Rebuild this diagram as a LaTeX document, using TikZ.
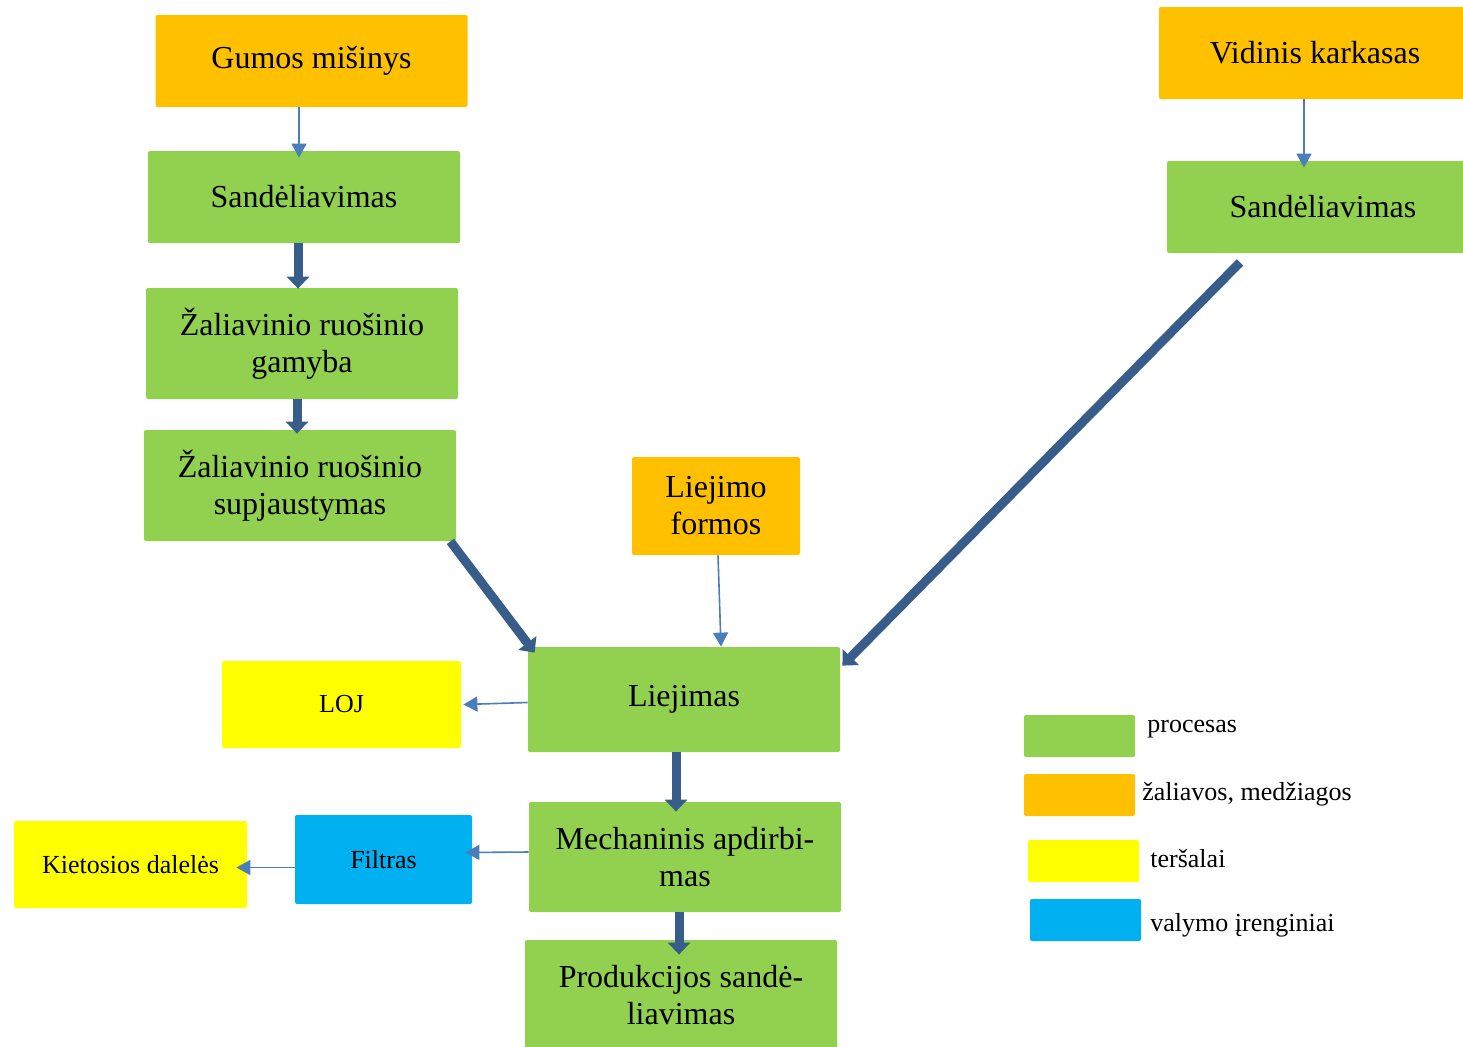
\documentclass[tikz,border=0pt]{standalone}
\usepackage{fontspec}
\setmainfont{Liberation Serif}
\usetikzlibrary{arrows.meta}

\definecolor{procgreen}{HTML}{92D050}
\definecolor{matorange}{HTML}{FFC000}
\definecolor{polyellow}{HTML}{FFFF00}
\definecolor{cleanblue}{HTML}{00B0F0}
\definecolor{flowblue}{HTML}{385D8A}
\definecolor{feedblue}{HTML}{4A7EBB}

\begin{document}
\begin{tikzpicture}[x=0.5pt,y=-0.5pt,
  box/.style={rectangle, rounded corners=1pt, inner sep=0pt, align=center,
    minimum width=156pt, font=\fontsize{16}{18.5}\selectfont},
  proc/.style={box, fill=procgreen},
  mat/.style={box, fill=matorange},
  small/.style={rectangle, rounded corners=1pt, inner sep=0pt, align=center,
    font=\fontsize{13}{15}\selectfont},
  flow/.style={draw=flowblue, line width=4.5pt, -{Triangle[width=11pt,length=6pt]}},
  feed/.style={draw=feedblue, line width=0.8pt, -{Triangle[width=7.5pt,length=7pt]}},
  key/.style={rectangle, rounded corners=1pt, minimum width=55.5pt, minimum height=21pt},
  keytext/.style={anchor=west, inner sep=0pt, font=\fontsize{13}{15}\selectfont}]
  \useasboundingbox (0,0) rectangle (1463,1046);
  % raw materials and processes
  \node[mat, minimum height=46pt] (gumos) at (311.5,61) {Gumos mišinys};
  \node[proc, minimum height=46pt] (sand1) at (304,197) {Sandėliavimas};
  \node[proc, minimum height=55.5pt] (gamyba) at (302,343.5) {Žaliavinio ruošinio\\gamyba};
  \node[proc, minimum height=55.5pt] (supj) at (300,485.5) {Žaliavinio ruošinio\\supjaustymas};
  \node[mat, minimum width=84pt, minimum height=49pt] (formos) at (716,506) {Liejimo\\formos};
  \node[mat, minimum height=46pt] (vidinis) at (1315,53) {Vidinis karkasas};
  \node[proc, minimum height=46pt] (sand2) at (1323,207) {Sandėliavimas};
  \node[proc, minimum height=52.5pt] (liejimas) at (684,699.5) {Liejimas};
  \node[proc, minimum height=55pt] (mech) at (685,857) {Mechaninis apdirbi-\\mas};
  \node[proc, minimum height=55pt] (prod) at (681,995) {Produkcijos sandė-\\liavimas};
  % pollutants and cleaning
  \node[small, fill=polyellow, minimum width=119.5pt, minimum height=43.5pt] (loj) at (341.5,704.5) {LOJ};
  \node[small, fill=cleanblue, minimum width=88.5pt, minimum height=44.5pt] (filtras) at (383.5,859.5) {Filtras};
  \node[small, fill=polyellow, minimum width=116.5pt, minimum height=43.5pt] (kiet) at (130.5,864.5) {Kietosios dalelės};
  % connectors
  \draw[feed] (gumos.south -| 299,0) -- ([yshift=-3.5pt]sand1.north -| 299,0);
  \draw[feed] (vidinis.south -| 1304,0) -- ([yshift=-3.5pt]sand2.north -| 1304,0);
  \draw[feed] ([xshift=1pt]formos.south) -- ([xshift=18.5pt]liejimas.north);
  \draw[feed] ([yshift=-1.5pt]liejimas.west) -- ([xshift=1pt]loj.east);
  \draw[feed] ([yshift=2.5pt]mech.west) -- ([xshift=-3.5pt,yshift=3.5pt]filtras.east);
  \draw[feed] ([yshift=-4pt]filtras.west) -- ([xshift=-5.5pt,yshift=-1.5pt]kiet.east);
  \draw[flow] ([xshift=-3pt]sand1.south) -- ([xshift=-2pt,yshift=-0.5pt]gamyba.north);
  \draw[flow] ([xshift=-2.5pt]gamyba.south) -- ([xshift=-1.5pt,yshift=-2pt]supj.north);
  \draw[flow] ([xshift=-3pt]supj.south east) -- ([xshift=3.5pt,yshift=-3pt]liejimas.north west);
  \draw[flow] ([xshift=-41.5pt,yshift=-4.5pt]sand2.south) -- ([xshift=1pt,yshift=-9.5pt]liejimas.north east);
  \draw[flow] ([xshift=-4pt]liejimas.south) -- ([xshift=-4.5pt,yshift=-5pt]mech.north);
  \draw[flow] ([xshift=-3pt]mech.south) -- ([xshift=-1pt,yshift=-7.5pt]prod.north);
  % legend
  \node[key, fill=procgreen] (kproc) at (1079.5,736) {};
  \node[key, fill=matorange] (kmat) at (1079.5,795) {};
  \node[key, fill=polyellow] (kpol) at (1083.5,861) {};
  \node[key, fill=cleanblue] (kclean) at (1085.5,920) {};
  \node[keytext] (tproc) at (1147,729) {procesas};
  \node[keytext] (tmat) at (1142,794) {žaliavos, medžiagos};
  \node[keytext] (tpol) at (1150,859) {teršalai};
  \node[keytext] (tclean) at (1150,925) {valymo įrenginiai};
\end{tikzpicture}
\end{document}
